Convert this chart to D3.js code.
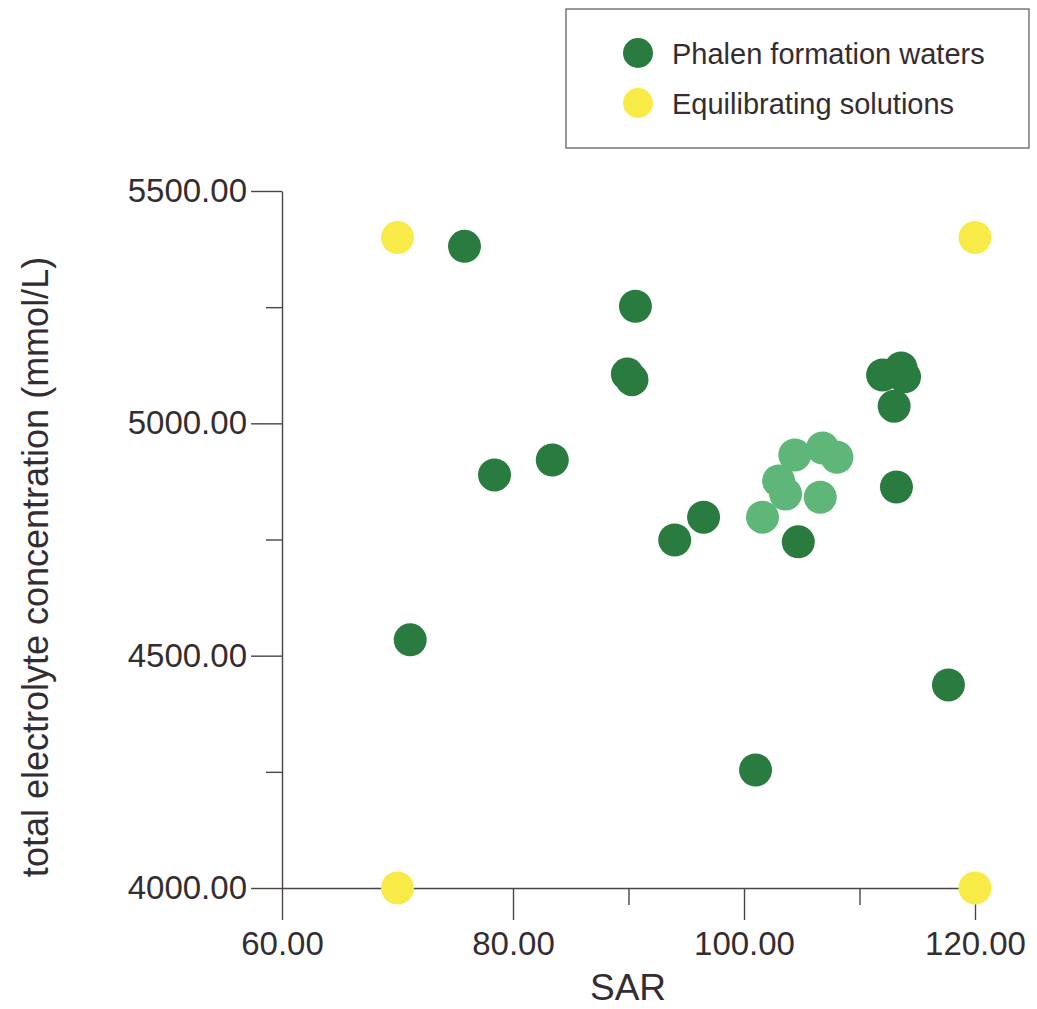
<!DOCTYPE html>
<html>
<head>
<meta charset="utf-8">
<script src="https://cdn.jsdelivr.net/npm/d3@7"></script>
<style>
body{margin:0;background:#fff;}
svg text{font-family:"Liberation Sans",Arial,sans-serif;fill:#332d31;}
</style>
</head>
<body>
<svg id="chart" width="1037" height="1009"></svg>
<script>
// SAR vs total electrolyte
var phalenSAR = [75.8,90.6,89.9,90.3,78.4,83.4,94.0,96.5,104.7,71.1,101.0,117.7,113.2,112.0,113.6,113.9,113.0];
var phalenTEC = [5381,5252,5106,5094,4889,4921,4749,4798,4745,4534,4254,4437,4863,5104,5119,5100,5037];
var lightSAR = [101.6,103.0,103.6,104.4,106.8,108.05,106.6];
var lightTEC = [4798,4876,4848,4932,4947,4927,4841];
var equilSAR = [70,120,70,120];
var equilTEC = [5400,5400,4000,4000];
var xMajor = [60,80,100,120];
var xMinor = [90,110];
var yMajor = [4000,4500,5000,5500];
var yMinor = [4250,4750,5250];
var legendNames = ["Phalen formation waters","Equilibrating solutions"];

var darkGreen="#2a7b3f", lightGreen="#5eb779", yellow="#f8eb47";
var svg=d3.select("#chart");

var x=d3.scaleLinear().domain([60,120]).range([282,975]);
var y=d3.scaleLinear().domain([4000,5500]).range([888,191]);

function styleAxis(g){
    g.selectAll("path,line").attr("stroke","#4a4448").attr("stroke-width",1.4);
    g.selectAll("text").attr("font-size",33).attr("fill","#332d31")
        .style("font-family","'Liberation Sans',Arial,sans-serif");
}

// minor ticks
svg.append("g").attr("transform","translate(0,888)")
    .call(d3.axisBottom(x).tickValues(xMinor).tickSize(17).tickFormat(""))
    .call(function(g){g.select(".domain").remove();}).call(styleAxis);
svg.append("g").attr("transform","translate(282,0)")
    .call(d3.axisLeft(y).tickValues(yMinor).tickSize(16).tickFormat(""))
    .call(function(g){g.select(".domain").remove();}).call(styleAxis);

var xAxis=svg.append("g").attr("transform","translate(0,888)")
    .call(d3.axisBottom(x).tickValues(xMajor).tickSize(32).tickSizeOuter(0).tickPadding(12).tickFormat(d3.format(".2f")))
    .call(styleAxis);
var yAxis=svg.append("g").attr("transform","translate(282,0)")
    .call(d3.axisLeft(y).tickValues(yMajor).tickSize(31).tickSizeOuter(0).tickPadding(4).tickFormat(d3.format(".2f")))
    .call(styleAxis);

svg.append("text").attr("x",628).attr("y",1000).attr("text-anchor","middle")
    .attr("font-size",37).text("SAR");
svg.append("text").attr("transform","translate(48,567) rotate(-90)")
    .attr("text-anchor","middle").attr("font-size",36)
    .text("total electrolyte concentration (mmol/L)");

var r=16.5;
function dots(xs,ys,col){
    svg.append("g").selectAll("circle").data(xs).enter().append("circle")
        .attr("cx",function(d){return x(d);})
        .attr("cy",function(d,i){return y(ys[i]);})
        .attr("r",r).attr("fill",col);
}
dots(phalenSAR,phalenTEC,darkGreen);
dots(lightSAR,lightTEC,lightGreen);
dots(equilSAR,equilTEC,yellow);

// legend
var lg=svg.append("g");
lg.append("rect").attr("x",566).attr("y",9).attr("width",463).attr("height",139)
    .attr("fill","#fff").attr("stroke","#555").attr("stroke-width",1.2);
var legCols=[darkGreen,yellow];
legendNames.forEach(function(n,i){
    lg.append("circle").attr("cx",638).attr("cy",53+i*50).attr("r",15).attr("fill",legCols[i]);
    lg.append("text").attr("x",672).attr("y",64+i*50).attr("font-size",29).text(n);
});
</script>
</body>
</html>
